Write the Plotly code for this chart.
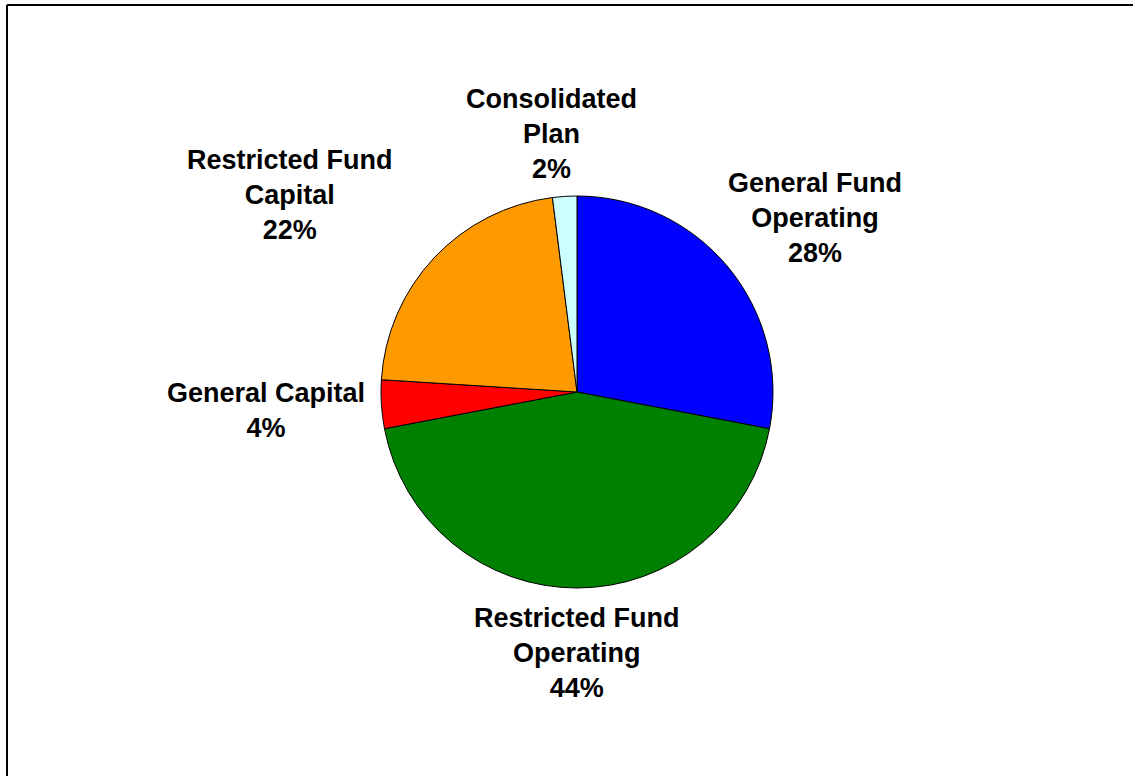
import plotly.graph_objects as go

# Fund shares, clockwise from 12 o'clock
categories = [
    "General Fund<br>Operating",
    "Restricted Fund<br>Operating",
    "General Capital",
    "Restricted Fund<br>Capital",
    "Consolidated<br>Plan",
]
shares = [28, 44, 4, 22, 2]
colors = ["#0000FF", "#008000", "#FF0000", "#FF9900", "#CCFFFF"]

# Label block centres (pixels from top-left of the page), one per slice
label_centers = [(815, 218), (577, 653), (266, 410), (290, 195), (551, 134)]

W, H = 1133, 776
cx, cy, r = 577, 392, 196
FONT = "Liberation Sans, Arial, sans-serif"

fig = go.Figure(
    go.Pie(
        labels=categories,
        values=shares,
        sort=False,
        direction="clockwise",
        rotation=0,
        marker=dict(colors=colors, line=dict(color="black", width=1)),
        textinfo="none",
        hoverinfo="label+percent",
        showlegend=False,
        domain=dict(x=[(cx - r) / W, (cx + r) / W], y=[1 - (cy + r) / H, 1 - (cy - r) / H]),
    )
)

total = sum(shares)
for name, val, (lx, ly) in zip(categories, shares, label_centers):
    pct = round(100 * val / total)
    fig.add_annotation(
        x=lx / W, y=1 - ly / H, xref="paper", yref="paper",
        xanchor="center", yanchor="middle", align="center",
        text=f"<b>{name}<br>{pct}%</b>",
        showarrow=False,
        font=dict(family=FONT, size=27, color="black"),
    )

# Frame around the chart area (only top and left edges fall inside the page)
fig.add_shape(type="line", xref="paper", yref="paper",
              x0=7 / W, x1=1.01, y0=1 - 5 / H, y1=1 - 5 / H,
              line=dict(color="black", width=2))
fig.add_shape(type="line", xref="paper", yref="paper",
              x0=7 / W, x1=7 / W, y0=-0.01, y1=1 - 5 / H,
              line=dict(color="black", width=2))

fig.update_layout(
    width=W,
    height=H,
    margin=dict(l=0, r=0, t=0, b=0),
    paper_bgcolor="white",
    plot_bgcolor="white",
    font=dict(family=FONT),
)

fig.write_html("out.html")
